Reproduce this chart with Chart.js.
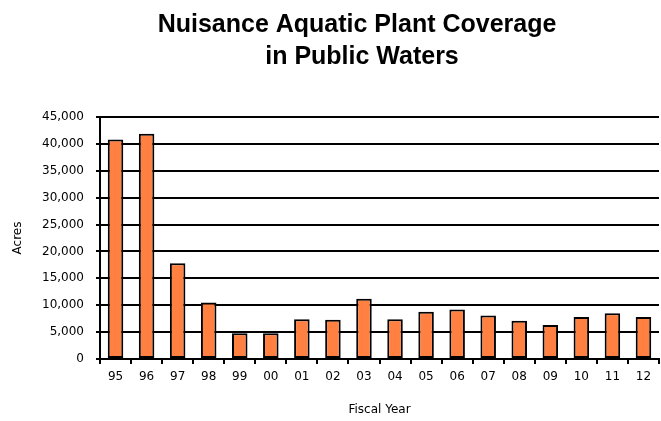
<!DOCTYPE html>
<html>
<head>
<meta charset="utf-8">
<script src="https://cdn.jsdelivr.net/npm/chart.js@4"></script>
<style>
  html, body { margin: 0; padding: 0; background: #fff; }
  #wrap { width: 661px; height: 421px; }
</style>
</head>
<body>
<div id="wrap"><canvas id="chart" width="661" height="421"></canvas></div>
<script>
// fiscal years and acres
const years = ["95", "96", "97", "98", "99", "00", "01", "02", "03", "04", "05", "06", "07", "08", "09", "10", "11", "12"];
const acres = [40800, 41900, 17800, 10500, 4800, 4800, 7400, 7300, 11200, 7400, 8800, 9200, 8100, 7100, 6300, 7800, 8500, 7800];
const titleLines = ["Nuisance Aquatic Plant Coverage", "in Public Waters"];
const yMax = 45000;
const yStep = 5000;

const tickFont = { family: "DejaVu Sans", size: 12 };

// two-line heading, sits a bit right of canvas centre like the original
const headingPlugin = {
  id: "heading",
  afterDraw(chart) {
    const ctx = chart.ctx;
    ctx.save();
    ctx.fillStyle = "#000";
    ctx.font = "bold 25px 'Liberation Sans'";
    ctx.textAlign = "center";
    ctx.textBaseline = "alphabetic";
    ctx.fillText(titleLines[0], 357, 32);
    ctx.fillText(titleLines[1], 362, 64);
    ctx.restore();
  }
};

new Chart(document.getElementById("chart").getContext("2d"), {
  type: "bar",
  data: {
    labels: years,
    datasets: [{
      label: "Acres",
      data: acres,
      backgroundColor: "#ff8040",
      borderColor: "#000",
      borderWidth: 2,
      borderSkipped: false,
      barPercentage: 0.5,
      categoryPercentage: 1.0
    }]
  },
  plugins: [headingPlugin],
  options: {
    responsive: false,
    animation: false,
    devicePixelRatio: 1,
    layout: { padding: { left: 0, right: 2, top: 117, bottom: 0 } },
    plugins: {
      legend: { display: false },
      tooltip: { enabled: false },
      title: { display: false }
    },
    scales: {
      x: {
        afterFit: s => { s.height = 62; },
        grid: { display: true, drawOnChartArea: false, color: "#000", lineWidth: 2, tickLength: 5, offset: true },
        border: { color: "#000", width: 2 },
        ticks: { color: "#000", font: tickFont, padding: 6, maxRotation: 0 },
        title: { display: true, text: "Fiscal Year", color: "#000", font: tickFont, padding: { top: 4, bottom: 4 } }
      },
      y: {
        afterFit: s => { s.width = 100; },
        min: 0,
        max: yMax,
        ticks: {
          stepSize: yStep,
          color: "#000",
          font: tickFont,
          padding: 12,
          callback: v => v.toLocaleString("en-US")
        },
        grid: { color: "#000", lineWidth: 2, tickLength: 4 },
        border: { color: "#000", width: 2 },
        title: { display: true, text: "Acres", color: "#000", font: tickFont, padding: { top: 11, bottom: 0 } }
      }
    }
  }
});
</script>
</body>
</html>
